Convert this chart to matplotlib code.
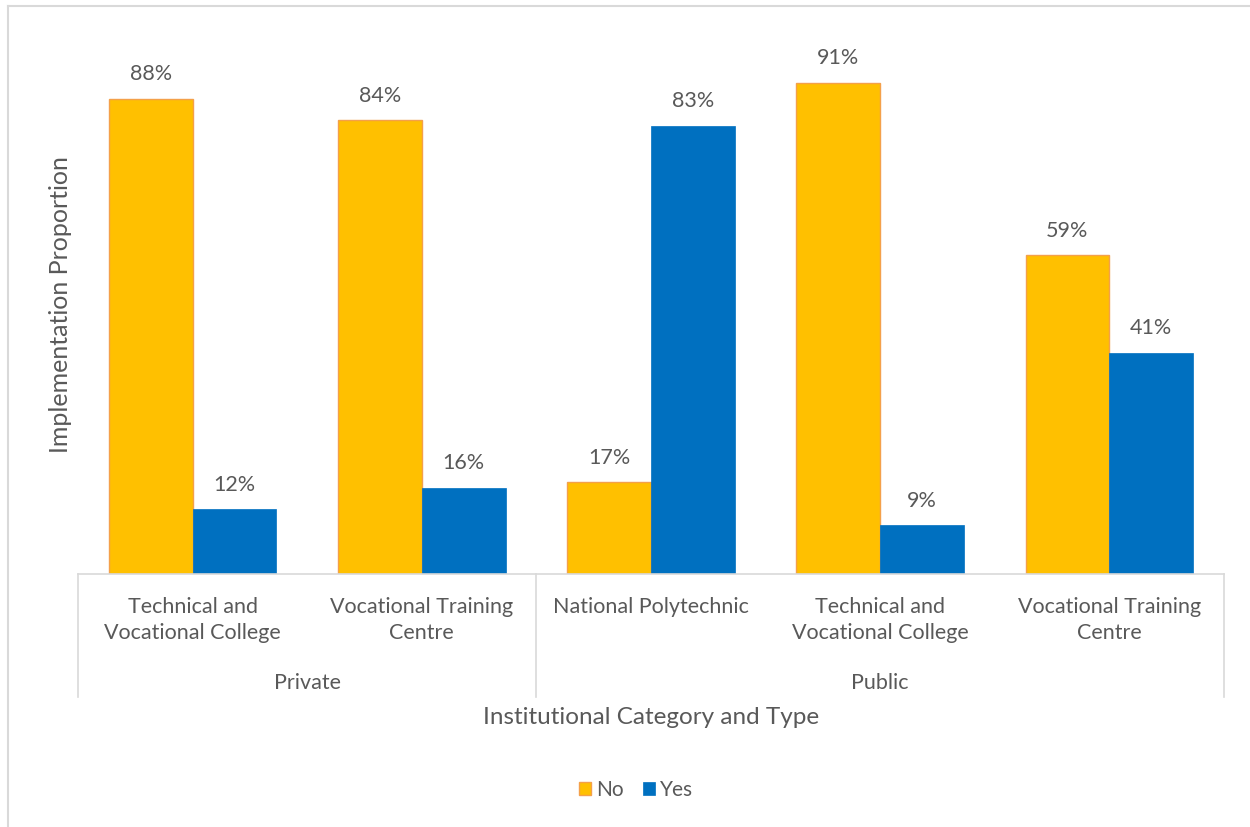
import matplotlib.pyplot as plt
import numpy as np
from matplotlib.lines import Line2D

groups = ["Private", "Public"]
types = [
    "Technical and\nVocational College",
    "Vocational Training\nCentre",
    "National Polytechnic",
    "Technical and\nVocational College",
    "Vocational Training\nCentre",
]
type_group = [0, 0, 1, 1, 1]
no_vals = [0.88, 0.84, 0.17, 0.91, 0.59]
yes_vals = [0.12, 0.16, 0.83, 0.09, 0.41]

NO_COLOR = "#FFC000"
NO_EDGE = "#F4A04A"
YES_COLOR = "#0070C0"
TEXT = "#595959"
GRID = "#D9D9D9"

plt.rcParams["font.family"] = ["Lato", "DejaVu Sans"]

W, H = 1250, 827
fig = plt.figure(figsize=(W / 100, H / 100), dpi=100)
ax = fig.add_axes([78 / W, 1 - 574 / H, (1224 - 78) / W, (574 - 34) / H])

x = np.arange(len(types))
bw = 0.366
ax.bar(x - bw / 2, no_vals, bw, color=NO_COLOR, edgecolor=NO_EDGE, linewidth=1.0, label="No")
ax.bar(x + bw / 2, yes_vals, bw, color=YES_COLOR, edgecolor=YES_COLOR, linewidth=0.5, label="Yes")

for xs, vals in [(x - bw / 2, no_vals), (x + bw / 2, yes_vals)]:
    for xi, v in zip(xs, vals):
        ax.annotate(f"{v:.0%}", (xi, v), xytext=(0, 17.5), textcoords="offset points",
                    ha="center", va="center", fontsize=15.5, color=TEXT)

ax.set_xlim(-0.5, len(types) - 0.5)
ax.set_ylim(0, 1.0)
ax.set_yticks([])
ax.set_xticks([])
for s in ["top", "right", "left"]:
    ax.spines[s].set_visible(False)
ax.spines["bottom"].set_color(GRID)
ax.spines["bottom"].set_linewidth(1.2)

# two-level category axis drawn below the plot
tr = ax.get_xaxis_transform()
span = 574 - 34
y_bot = -(697 - 574) / span
for i, lab in enumerate(types):
    ax.text(i, -(597 - 574) / span, lab, transform=tr, ha="center", va="top",
            fontsize=15.5, color=TEXT, linespacing=1.38)

bounds = [-0.5]
for g in range(len(groups)):
    idx = [i for i, t in enumerate(type_group) if t == g]
    lo, hi = min(idx) - 0.5, max(idx) + 0.5
    bounds.append(hi)
    ax.text((lo + hi) / 2, -(683 - 574) / span, groups[g], transform=tr,
            ha="center", va="center", fontsize=15.5, color=TEXT)
for b in bounds:
    ax.add_line(Line2D([b, b], [0, y_bot], transform=tr, color=GRID,
                       linewidth=1.2, clip_on=False))

fig.text(651 / W, 1 - 718 / H, "Institutional Category and Type", ha="center",
         va="center", fontsize=17.5, color=TEXT)
fig.text(61 / W, 1 - 305 / H, "Implementation Proportion", ha="center",
         va="center", rotation=90, fontsize=18, color=TEXT)

leg = fig.legend(loc="center", bbox_to_anchor=(636 / W, 1 - 790 / H), ncol=2,
                 frameon=False, fontsize=15, handlelength=0.6, handleheight=0.6,
                 handletextpad=0.25, columnspacing=0.9)
for t in leg.get_texts():
    t.set_color(TEXT)

# chart area border (left and top edges)
fig.add_artist(Line2D([8 / W, 8 / W], [0, 1 - 6 / H], transform=fig.transFigure,
                      color=GRID, linewidth=1.5))
fig.add_artist(Line2D([8 / W, 1], [1 - 6 / H, 1 - 6 / H], transform=fig.transFigure,
                      color=GRID, linewidth=1.5))

fig.savefig("out.png", dpi=100, facecolor="white")
